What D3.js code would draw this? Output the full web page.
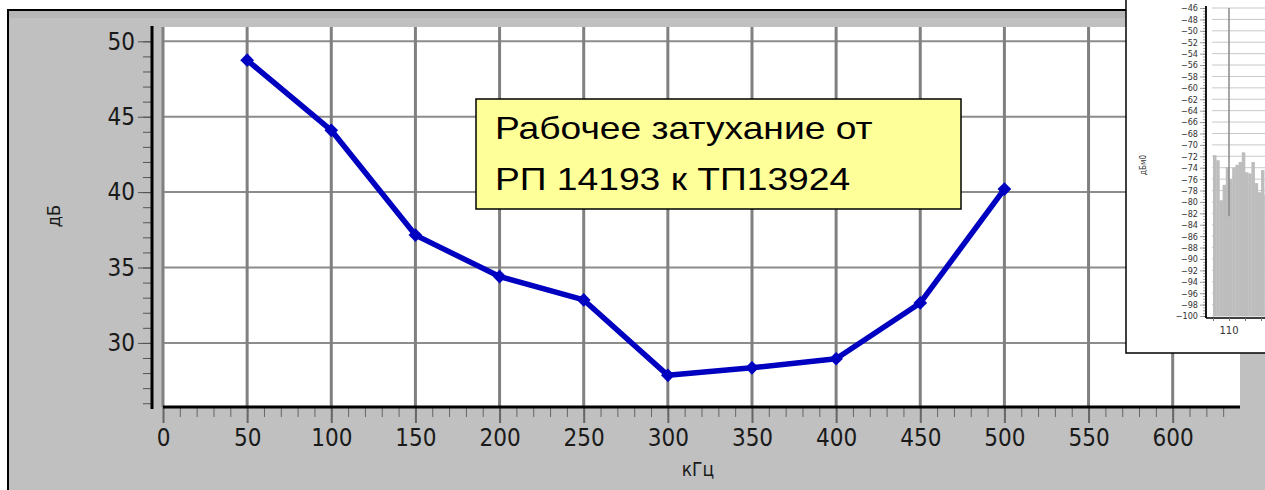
<!DOCTYPE html>
<html>
<head>
<meta charset="utf-8">
<script src="https://cdn.jsdelivr.net/npm/d3@7"></script>
<style>
  body { margin: 0; background: #fff; }
  svg { display: block; }
  .tick-lbl { font-family: 'Liberation Sans Narrow', 'DejaVu Sans Condensed', sans-serif; font-size: 24px; fill: #1a1a1a; }
</style>
</head>
<body>
<script>
// main series: working attenuation vs frequency
const freqs = [50, 100, 150, 200, 250, 300, 350, 400, 450, 500];
const attenuation = [48.75, 44.1, 37.15, 34.4, 32.85, 27.85, 28.35, 28.95, 32.65, 40.2];
const xTicks = [0, 50, 100, 150, 200, 250, 300, 350, 400, 450, 500, 550, 600];
const yTicks = [30, 35, 40, 45, 50];
const noteLines = ['Рабочее затухание от', 'РП 14193 к ТП13924'];

// inset spectrum (partly hidden behind page edge)
const specFreqs = [109.0, 109.2, 109.4, 109.6, 109.8, 110.0, 110.2, 110.4, 110.6, 110.8, 111.0, 111.2, 111.4, 111.6, 111.8, 112.0, 112.2];
const specLevels = [-71.8, -72.7, -79.7, -77, -73.9, -76, -74, -73.5, -73, -71.3, -74.8, -75, -73, -76.7, -78.3, -74.4, -78.8];
const specYTicks = d3.range(-46, -101, -2);
const specXTicks = [110];

const width = 1265;
const height = 490;

const svg = d3.select('body').append('svg')
  .attr('width', width)
  .attr('height', height);

// outer gray panel
svg.append('rect')
  .attr('x', 8).attr('y', 10)
  .attr('width', 1400).attr('height', 600)
  .attr('fill', '#c0c0c0')
  .attr('stroke', '#000')
  .attr('stroke-width', 2);
svg.append('rect')
  .attr('x', 9).attr('y', 11)
  .attr('width', 1400).attr('height', 7)
  .attr('fill', '#b6b6b6');

const plot = { left: 163, right: 1240, top: 27, bottom: 407 };

const x = d3.scaleLinear().domain([0, 640]).range([plot.left, plot.right]);
const y = d3.scaleLinear().domain([25.75, 50.95]).range([plot.bottom, plot.top]);

svg.append('rect')
  .attr('x', plot.left).attr('y', plot.top)
  .attr('width', plot.right - plot.left)
  .attr('height', plot.bottom - plot.top)
  .attr('fill', '#fff');

// grid
svg.append('g')
  .selectAll('line')
  .data(yTicks)
  .enter()
  .append('line')
  .attr('x1', plot.left).attr('x2', plot.right)
  .attr('y1', d => y(d)).attr('y2', d => y(d))
  .attr('stroke', '#8c8c8c')
  .attr('stroke-width', 2);

svg.append('g')
  .selectAll('line')
  .data(xTicks)
  .enter()
  .append('line')
  .attr('x1', d => x(d)).attr('x2', d => x(d))
  .attr('y1', plot.top).attr('y2', plot.bottom)
  .attr('stroke', '#808080')
  .attr('stroke-width', 3);

// y axis
const yAxisX = 152;
const yMinor = svg.append('g')
  .attr('transform', `translate(${yAxisX},0)`)
  .call(d3.axisLeft(y).tickValues(d3.range(26, 51, 1)).tickSize(9).tickFormat(''));
const yMajor = svg.append('g')
  .attr('transform', `translate(${yAxisX},0)`)
  .call(d3.axisLeft(y).tickValues(yTicks).tickSize(14).tickPadding(3));
[yMinor, yMajor].forEach(g => {
  g.select('.domain').remove();
  g.selectAll('.tick line').attr('stroke', '#555').attr('stroke-width', 1);
});
yMajor.selectAll('.tick text').attr('class', 'tick-lbl').attr('fill', null).attr('font-size', null).attr('font-family', null);

svg.append('line')
  .attr('x1', yAxisX).attr('x2', yAxisX)
  .attr('y1', 26).attr('y2', 409)
  .attr('stroke', '#000').attr('stroke-width', 3);

// x axis
const xMinor = svg.append('g')
  .attr('transform', `translate(0,${plot.bottom})`)
  .call(d3.axisBottom(x).tickValues(d3.range(0, 640, 10)).tickSize(10).tickFormat(''));
const xMajor = svg.append('g')
  .attr('transform', `translate(0,${plot.bottom})`)
  .call(d3.axisBottom(x).tickValues(xTicks).tickSize(16).tickPadding(6));
[xMinor, xMajor].forEach(g => {
  g.select('.domain').remove();
  g.selectAll('.tick line').attr('stroke', '#666').attr('stroke-width', 1);
});
xMajor.selectAll('.tick line').attr('stroke-width', 2);
xMajor.selectAll('.tick text').attr('class', 'tick-lbl').attr('fill', null).attr('font-size', null).attr('font-family', null);

svg.append('line')
  .attr('x1', plot.left).attr('x2', plot.right)
  .attr('y1', plot.bottom).attr('y2', plot.bottom)
  .attr('stroke', '#000').attr('stroke-width', 3);

// axis titles
svg.append('text')
  .attr('x', 698).attr('y', 476)
  .attr('text-anchor', 'middle')
  .attr('class', 'tick-lbl')
  .style('font-size', '19px')
  .text('кГц');

svg.append('text')
  .attr('transform', 'translate(60,216) rotate(-90)')
  .attr('text-anchor', 'middle')
  .attr('class', 'tick-lbl')
  .style('font-size', '18px')
  .text('дБ');

// series
const pts = freqs.map((f, i) => [f, attenuation[i]]);
svg.append('path')
  .datum(pts)
  .attr('fill', 'none')
  .attr('stroke', '#0000c0')
  .attr('stroke-width', 5.5)
  .attr('stroke-linejoin', 'round')
  .attr('d', d3.line().x(d => x(d[0])).y(d => y(d[1])));

svg.append('g')
  .selectAll('path')
  .data(pts)
  .enter()
  .append('path')
  .attr('transform', d => `translate(${x(d[0])},${y(d[1])})`)
  .attr('d', d3.symbol(d3.symbolDiamond2, 120))
  .attr('fill', '#0000c0');

// note box
const note = svg.append('g').attr('transform', 'translate(476,99)');
note.append('rect')
  .attr('width', 485).attr('height', 110)
  .attr('fill', '#ffff99')
  .attr('stroke', '#000')
  .attr('stroke-width', 1.5);
note.selectAll('text')
  .data(noteLines)
  .enter()
  .append('text')
  .attr('transform', (d, i) => `translate(19,${40 + i * 51}) scale(1.2,1)`)
  .attr('font-family', 'Liberation Sans, Arial, sans-serif')
  .attr('font-size', 31)
  .attr('fill', '#000')
  .text(d => d);

// inset spectrum window
const inset = svg.append('g');
inset.append('rect')
  .attr('x', 1126).attr('y', -2)
  .attr('width', 200).attr('height', 355)
  .attr('fill', '#fff')
  .attr('stroke', '#000')
  .attr('stroke-width', 1.5);

const sx = d3.scaleLinear().domain([109, 112]).range([1213, 1261]);
const sy = d3.scaleLinear().domain([-100, -46]).range([316, 8]);
const barW = sx(109.2) - sx(109);

inset.append('g')
  .selectAll('line')
  .data(specYTicks)
  .enter()
  .append('line')
  .attr('x1', 1212).attr('x2', 1265)
  .attr('y1', d => sy(d)).attr('y2', d => sy(d))
  .attr('stroke', '#c8c8c8')
  .attr('stroke-width', 1);

inset.append('g')
  .selectAll('rect')
  .data(specFreqs)
  .enter()
  .append('rect')
  .attr('x', d => sx(d))
  .attr('width', barW + 0.3)
  .attr('y', (d, i) => sy(specLevels[i]))
  .attr('height', (d, i) => sy(-100) - sy(specLevels[i]))
  .attr('fill', '#bdbdbd');

inset.append('line')
  .attr('x1', sx(110)).attr('x2', sx(110))
  .attr('y1', 8).attr('y2', sy(-82.5))
  .attr('stroke', '#8a8a8a')
  .attr('stroke-width', 1.5);

const sAxisX = 1206;
const sMinor = inset.append('g')
  .attr('transform', `translate(${sAxisX},0)`)
  .call(d3.axisLeft(sy).tickValues(d3.range(-100, -45.9, 0.5)).tickSize(3).tickFormat(''));
const sMajor = inset.append('g')
  .attr('transform', `translate(${sAxisX},0)`)
  .call(d3.axisLeft(sy).tickValues(specYTicks).tickSize(6).tickPadding(2));
[sMinor, sMajor].forEach(g => {
  g.select('.domain').remove();
  g.selectAll('.tick line').attr('stroke', '#777').attr('stroke-width', 0.7);
});
sMajor.selectAll('.tick text')
  .attr('font-family', 'DejaVu Sans Condensed, sans-serif')
  .attr('font-size', 9)
  .attr('fill', '#333');

inset.append('line')
  .attr('x1', sAxisX).attr('x2', sAxisX)
  .attr('y1', 6).attr('y2', 318)
  .attr('stroke', '#000').attr('stroke-width', 1.8);
inset.append('line')
  .attr('x1', sAxisX).attr('x2', 1265)
  .attr('y1', 318).attr('y2', 318)
  .attr('stroke', '#000').attr('stroke-width', 1.5);

const sxAxis = inset.append('g')
  .attr('transform', 'translate(0,318)')
  .call(d3.axisBottom(sx).tickValues([109, 110, 111, 112]).tickSize(3).tickFormat(''));
sxAxis.select('.domain').remove();
sxAxis.selectAll('.tick line').attr('stroke', '#777');
inset.append('g')
  .selectAll('text')
  .data(specXTicks)
  .enter()
  .append('text')
  .attr('x', d => sx(d))
  .attr('y', 334)
  .attr('text-anchor', 'middle')
  .attr('font-family', 'DejaVu Sans, sans-serif')
  .attr('font-size', 10)
  .attr('fill', '#333')
  .text(d => d);

inset.append('text')
  .attr('transform', 'translate(1146,165) rotate(-90)')
  .attr('text-anchor', 'middle')
  .attr('font-family', 'DejaVu Sans Condensed, sans-serif')
  .attr('font-size', 8)
  .attr('fill', '#333')
  .text('дБм0');
</script>
</body>
</html>
